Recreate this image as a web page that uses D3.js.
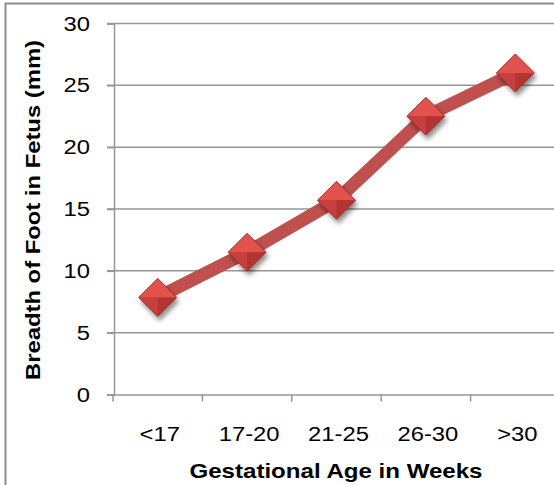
<!DOCTYPE html>
<html>
<head>
<meta charset="utf-8">
<script src="https://cdn.jsdelivr.net/npm/d3@7"></script>
<style>
  html, body { margin: 0; padding: 0; background: #fff; }
  svg { display: block; }
  text { font-family: "Liberation Sans", Arial, sans-serif; fill: #000; }
</style>
</head>
<body>
<div id="chart"></div>
<script>
const categories = ["<17", "17-20", "21-25", "26-30", ">30"];
const values = [7.85, 11.5, 15.7, 22.5, 26.0];
const yTicks = [0, 5, 10, 15, 20, 25, 30];
const xTitle = "Gestational Age in Weeks";
const yTitle = "Breadth of Foot in Fetus (mm)";

const W = 554, H = 485;
const svg = d3.select("#chart").append("svg").attr("width", W).attr("height", H);

const defs = svg.append("defs");
const f = defs.append("filter").attr("id", "shadow").attr("x", "-50%").attr("y", "-50%").attr("width", "200%").attr("height", "200%");
f.append("feGaussianBlur").attr("in", "SourceAlpha").attr("stdDeviation", 2.5).attr("result", "b");
f.append("feOffset").attr("in", "b").attr("dx", 2).attr("dy", 4).attr("result", "o");
f.append("feComponentTransfer").attr("in", "o").attr("result", "o2")
  .append("feFuncA").attr("type", "linear").attr("slope", 0.45);
const m = f.append("feMerge");
m.append("feMergeNode").attr("in", "o2");
m.append("feMergeNode").attr("in", "SourceGraphic");

function widen(sel, k) {
  sel.each(function() {
    const len = this.getComputedTextLength();
    d3.select(this).attr("textLength", len * k).attr("lengthAdjust", "spacingAndGlyphs");
  });
}

// outer border
svg.append("rect").attr("x", 5.5).attr("y", 3.5).attr("width", 600).attr("height", 600)
  .attr("fill", "none").attr("stroke", "#8c8c8c").attr("stroke-width", 2);

const x = d3.scaleBand().domain(categories).range([113, 560]);
const y = d3.scaleLinear().domain([0, 30]).range([394.5, 23.5]);

// gridlines
svg.append("g").selectAll("line").data(yTicks.filter(d => d > 0)).join("line")
  .attr("x1", 107).attr("x2", 600)
  .attr("y1", d => y(d)).attr("y2", d => y(d))
  .attr("stroke", "#969696").attr("stroke-width", 1.5);

// y axis
const yAxis = svg.append("g").attr("transform", "translate(114,0)")
  .call(d3.axisLeft(y).tickValues(yTicks).tickSize(7).tickPadding(17).tickFormat(d3.format("d")));
yAxis.select(".domain").attr("stroke", "#969696").attr("stroke-width", 1.5);
yAxis.selectAll(".tick line").attr("stroke", "#969696").attr("stroke-width", 1.5);
yAxis.selectAll("text").attr("font-size", 20.5).style("font-family", "Liberation Sans, Arial, sans-serif").attr("fill", "#000")
  .call(widen, 1.16);

// x axis
const xAxis = svg.append("g").attr("transform", "translate(0," + y(0) + ")")
  .call(d3.axisBottom(x).tickSize(0).tickPadding(32));
xAxis.select(".domain").attr("stroke", "#969696").attr("stroke-width", 1.5);
xAxis.selectAll("text").attr("font-size", 20.5).style("font-family", "Liberation Sans, Arial, sans-serif").attr("fill", "#000")
  .attr("dx", 2).call(widen, 1.16);
// tick marks between categories
svg.append("g").selectAll("line").data(categories).join("line")
  .attr("x1", d => x(d)).attr("x2", d => x(d))
  .attr("y1", y(0)).attr("y2", y(0) + 7)
  .attr("stroke", "#969696").attr("stroke-width", 1.5);

// line
const cx = d => x(d) + x.bandwidth() / 2;
const pts = categories.map((c, i) => [cx(c), y(values[i])]);
svg.append("path").attr("d", d3.line()(pts))
  .attr("fill", "none").attr("stroke", "#c0504d").attr("stroke-width", 13)
  .attr("stroke-linejoin", "round");

// markers: bevelled diamonds
const r = 19;
const mk = svg.append("g").selectAll("g").data(pts).join("g")
  .attr("transform", d => `translate(${d[0]},${d[1]})`)
  .attr("filter", "url(#shadow)");
mk.append("path").attr("d", `M0,${-r}L${r},0L0,${r}L${-r},0Z`).attr("fill", "#b83c39");
mk.append("path").attr("d", `M0,${-r}L${r},0L0,0L${-r},0Z`).attr("fill", "#e2524f");
mk.append("path").attr("d", `M${-r},0L0,0L0,${r}Z`).attr("fill", "#c8413e");
mk.append("path").attr("d", `M${r},0L0,0L0,${r}Z`).attr("fill", "#b23633");
mk.append("path").attr("d", `M0,${-r}L${r},0L0,${r}L${-r},0Z`).attr("fill", "none").attr("stroke", "#8e2c2a").attr("stroke-width", 0.8);

// titles
svg.append("text").attr("x", 336).attr("y", 478).attr("text-anchor", "middle")
  .attr("font-size", 21).attr("font-weight", "bold").text(xTitle)
  .attr("textLength", 293).attr("lengthAdjust", "spacingAndGlyphs");
svg.append("text").attr("transform", "translate(40,210) rotate(-90)").attr("text-anchor", "middle")
  .attr("font-size", 21).attr("font-weight", "bold").text(yTitle)
  .attr("textLength", 340).attr("lengthAdjust", "spacingAndGlyphs");
</script>
</body>
</html>
